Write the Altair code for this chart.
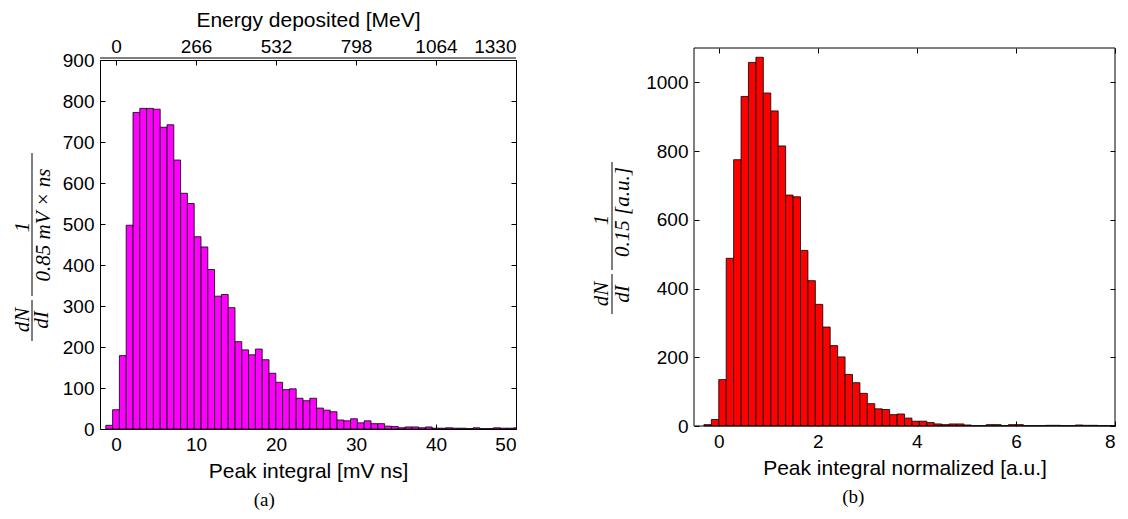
import altair as alt
import pandas as pd

# ---------------- data ----------------
left_counts = [9, 47, 179, 497, 772, 782, 782, 780, 736, 742, 656, 575, 550, 469, 444,
               389, 324, 328, 296, 213, 193, 181, 195, 169, 136, 114, 96, 98, 75, 69,
               75, 51, 46, 42, 22, 20, 25, 15, 20, 13, 13, 7, 6, 3, 5, 5, 3, 5, 2, 2,
               3, 2, 2, 1, 3, 1, 1, 3, 2, 2, 3]
left_bin_width = 0.85
left_first_center = -0.85
left_x_ticks = [0, 10, 20, 30, 40, 50]
left_y_ticks = [0, 100, 200, 300, 400, 500, 600, 700, 800, 900]
mev_per_unit = 26.6  # top axis: 0, 266, 532, 798, 1064, 1330

right_counts = [4, 19, 135, 488, 775, 959, 1058, 1073, 969, 917, 815, 672, 667, 511,
                423, 354, 288, 234, 201, 150, 126, 95, 65, 50, 48, 33, 35, 23, 14, 14,
                10, 6, 4, 6, 6, 3, 1, 1, 4, 4, 1, 4, 4, 1, 1, 1, 2, 2, 1, 1, 3, 2, 2,
                1, 1, 1]
right_bin_width = 0.15
right_first_start = -0.3
right_x_ticks = [0, 2, 4, 6, 8]
right_y_ticks = [0, 200, 400, 600, 800, 1000]

left_df = pd.DataFrame({
    "start": [left_first_center - left_bin_width / 2 + i * left_bin_width for i in range(len(left_counts))],
    "count": left_counts,
})
left_df["end"] = left_df["start"] + left_bin_width

right_df = pd.DataFrame({
    "start": [right_first_start + i * right_bin_width for i in range(len(right_counts))],
    "count": right_counts,
})
right_df["end"] = right_df["start"] + right_bin_width

SANS = "Liberation Sans"
SERIF = "Liberation Serif"
LW, LH = 416, 369
RW, RH = 421, 366
R_EXTRA = 12  # right panel frame reaches 12 px above the shared top line
one = pd.DataFrame({"a": [0]})


def tick_axis(values, orient, title=None, labels=True, label_expr=None, offset=-5,
              title_padding=6, label_padding=6):
    kw = dict(values=values, orient=orient, offset=offset, tickSize=5, domain=False,
              grid=False, labels=labels, tickColor="black", tickWidth=1, format="d",
              titlePadding=title_padding, labelPadding=label_padding)
    kw["title"] = title if title is not None else None
    if label_expr is not None:
        kw["labelExpr"] = label_expr
    return alt.Axis(**kw)


def math_text(txt, x, y):
    return alt.Chart(one).mark_text(
        text=txt, angle=270, font=SERIF, fontStyle="italic", fontSize=21,
        align="center", baseline="middle", color="black",
    ).encode(x=alt.value(x), y=alt.value(y))


def frac_bar(x, y1, y2):
    return alt.Chart(one).mark_rule(color="black", strokeWidth=1).encode(
        x=alt.value(x), y=alt.value(y1), y2=alt.value(y2))


# ---------------- left panel ----------------
lxs = alt.Scale(domain=[-2, 50], nice=False, zero=False)
lys = alt.Scale(domain=[0, 900], nice=False)
lbase = alt.Chart(left_df)
lbars = lbase.mark_bar(color="#FF00FF", stroke="black", strokeWidth=0.8, clip=True).encode(
    x=alt.X("start:Q", scale=lxs, axis=tick_axis(left_x_ticks, "bottom", "Peak integral [mV ns]")),
    x2="end:Q",
    y=alt.Y("count:Q", scale=lys, axis=tick_axis(left_y_ticks, "left")),
    y2=alt.datum(0),
)
lover = lbase.mark_bar(opacity=0, clip=True).encode(
    x=alt.X("start:Q", scale=lxs,
            axis=tick_axis(left_x_ticks, "top", "Energy deposited [MeV]",
                           label_expr=f"format(datum.value*{mev_per_unit},'d')",
                           title_padding=7, label_padding=4)),
    x2="end:Q",
    y=alt.Y("count:Q", scale=lys, axis=tick_axis(left_y_ticks, "right", labels=False)),
    y2=alt.datum(0),
)
ltopline = alt.Chart(one).mark_rule(color="black", strokeWidth=1).encode(
    x=alt.value(0), x2=alt.value(LW), y=alt.value(-2))
left = alt.layer(
    lbars, lover, ltopline,
    math_text("dN", -77, 260), math_text("dI", -58, 260), frac_bar(-68, 240, 281),
    math_text("1", -77, 167), math_text("0.85 mV × ns", -56, 165), frac_bar(-68, 93, 236),
).resolve_axis(x="independent", y="independent").properties(
    width=LW, height=LH,
    title=alt.TitleParams("(a)", orient="bottom", anchor="middle", frame="bounds",
                          font=SERIF, fontSize=19, fontWeight="normal", offset=10),
)

# ---------------- right panel ----------------
rxs = alt.Scale(domain=[-0.5, 8], nice=False, zero=False, clamp=True)
rys = alt.Scale(domain=[0, 1100], nice=False, range=[RH, -R_EXTRA])
rbase = alt.Chart(right_df)
rbars = rbase.mark_bar(color="#FF0000", stroke="black", strokeWidth=0.8).encode(
    x=alt.X("start:Q", scale=rxs, axis=tick_axis(right_x_ticks, "bottom", "Peak integral normalized [a.u.]")),
    x2="end:Q",
    y=alt.Y("count:Q", scale=rys, axis=tick_axis(right_y_ticks, "left")),
    y2=alt.datum(0),
)
rover = rbase.mark_bar(opacity=0).encode(
    x=alt.X("start:Q", scale=rxs, axis=tick_axis(right_x_ticks, "top", labels=False,
                                                  offset=R_EXTRA - 5)),
    x2="end:Q",
    y=alt.Y("count:Q", scale=rys, axis=tick_axis(right_y_ticks, "right", labels=False)),
    y2=alt.datum(0),
)
rframe = alt.Chart(one).mark_rect(filled=False, stroke="black", strokeWidth=1).encode(
    x=alt.value(0), x2=alt.value(RW), y=alt.value(-R_EXTRA), y2=alt.value(RH))
right = alt.layer(
    rbars, rover, rframe,
    math_text("dN", -92, 234), math_text("dI", -71, 234), frac_bar(-82, 214, 254),
    math_text("1", -92, 160), math_text("0.15 [a.u.]", -71, 152), frac_bar(-82, 102, 210),
).resolve_axis(x="independent", y="independent").properties(
    width=RW, height=RH,
    view=alt.ViewBackground(stroke="transparent"),
    title=alt.TitleParams("(b)", orient="bottom", anchor="middle", frame="bounds",
                          font=SERIF, fontSize=19, fontWeight="normal", offset=10),
)

chart = alt.hconcat(left, right, spacing=73).properties(
    padding={"left": 3, "top": 0, "right": 2, "bottom": 2},
    background="white",
).configure_view(stroke="black", strokeWidth=1).configure_axis(
    labelFont=SANS, labelFontSize=19, labelColor="black",
    titleFont=SANS, titleFontSize=21, titleFontWeight="normal", titleColor="black",
).configure_title(color="black")

chart.save("out.html", embed_options={"renderer": "svg", "actions": False})
